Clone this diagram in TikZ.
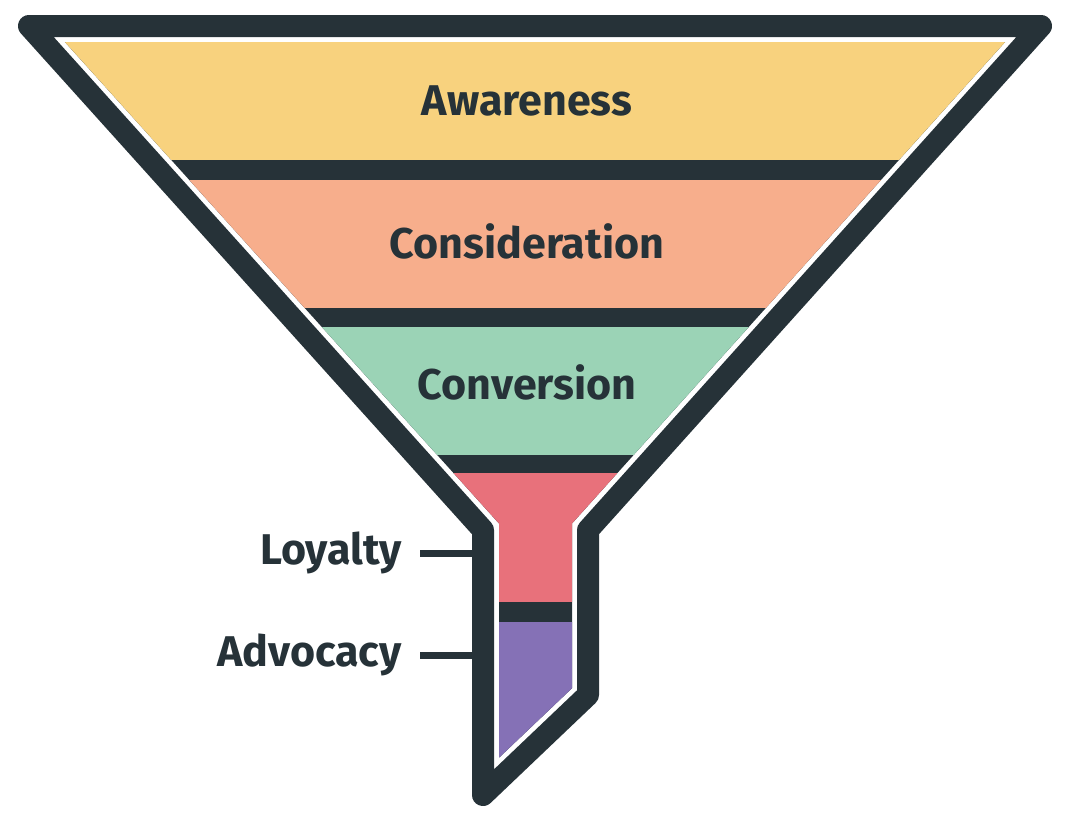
\documentclass[tikz,border=0pt]{standalone}
\usepackage{fontspec}
\setmainfont{Fira Sans}
\definecolor{ink}{HTML}{263238}
\definecolor{awareC}{HTML}{F8D27E}
\definecolor{considerC}{HTML}{F7AE8C}
\definecolor{convertC}{HTML}{9BD3B6}
\definecolor{loyalC}{HTML}{E8717B}
\definecolor{advocateC}{HTML}{8571B6}
\begin{document}
\begin{tikzpicture}[x=1pt, y=-1pt,
		stage/.style={font=\fontsize{43}{50}\selectfont\bfseries, text=ink, inner sep=0pt},
		tick/.style={ink, line width=7pt}]
		\useasboundingbox (0,0) rectangle (1072,828);
		% outer funnel
		\draw[ink, line width=22pt, line join=round] (29,26) -- (1041,26) -- (588,530) -- (588,695) -- (483,795) -- (483,530) -- cycle;
		% inner part, dark bars show between the bands
		\fill[ink] (64.9,42) -- (1005.1,42) -- (572,523.5) -- (572,688.2) -- (499,757.7) -- (499,523.5) -- cycle;
		\begin{scope}
			\clip (64.9,42) -- (1005.1,42) -- (572,523.5) -- (572,688.2) -- (499,757.7) -- (499,523.5) -- cycle;
			\fill[awareC] (0,40) rectangle (1072,160);
			\fill[considerC] (0,180) rectangle (1072,308);
			\fill[convertC] (0,327) rectangle (1072,455);
			\fill[loyalC] (0,473) rectangle (1072,602);
			\fill[advocateC] (0,622) rectangle (1072,800);
		\end{scope}
		\node[stage, anchor=base] (aware) at (527,115) {Awareness};
		\node[stage, anchor=base] (consider) at (527,258) {Consideration};
		\node[stage, anchor=base] (convert) at (527,399) {Conversion};
		\node[stage, anchor=east] (loyal) at (402,553) {Loyalty};
		\node[stage, anchor=east] (advocate) at (402,655) {Advocacy};
		\coordinate (loyaltip) at (474,553);
		\coordinate (advocatetip) at (474,655);
		\draw[tick] ([xshift=18pt]loyal.east) -- (loyaltip);
		\draw[tick] ([xshift=18pt]advocate.east) -- (advocatetip);
	\end{tikzpicture}
\end{document}
